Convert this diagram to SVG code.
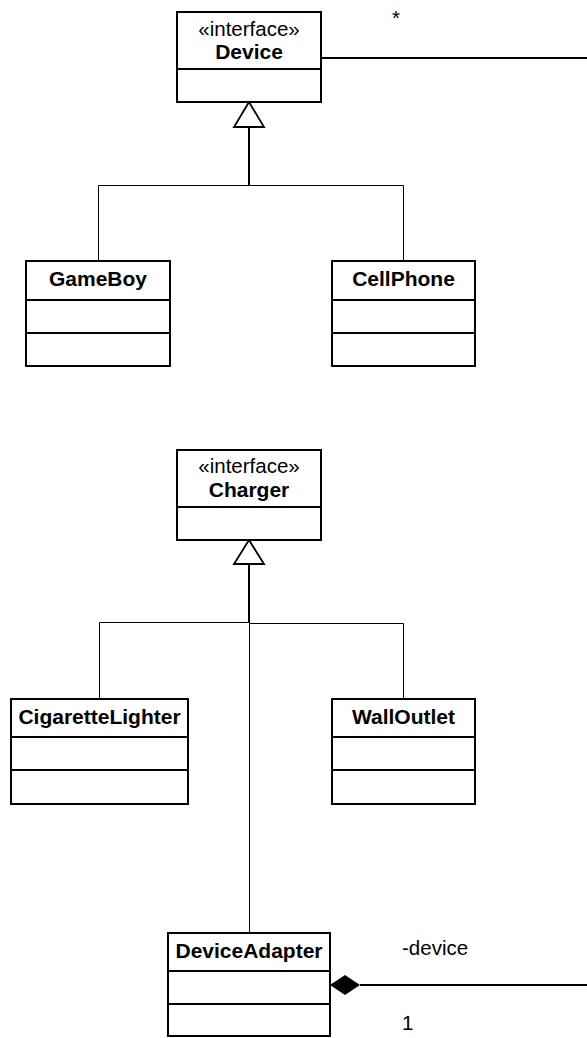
<svg xmlns="http://www.w3.org/2000/svg" width="587" height="1038" viewBox="0 0 587 1038">
<style>
.box{fill:#fff;stroke:#000;stroke-width:2}
.div{stroke:#000;stroke-width:2}
.ln{fill:none;stroke:#000;stroke-width:1}
.trunk{fill:none;stroke:#000;stroke-width:2}
.tri{fill:#fff;stroke:#000;stroke-width:1.8}
.st{font-family:"Liberation Sans",Arial,sans-serif;font-size:20.5px;text-anchor:middle;fill:#000}
.nm{font-family:"Liberation Sans",Arial,sans-serif;font-size:21px;font-weight:bold;text-anchor:middle;fill:#000}
.lb{font-family:"Liberation Sans",Arial,sans-serif;font-size:20.5px;fill:#000}
</style>
<rect width="587" height="1038" fill="#fff"/>
<g id="connectors">
  <!-- Device generalization -->
  <line class="trunk" x1="249" y1="127" x2="249" y2="185"/>
  <polyline class="ln" points="98.5,261 98.5,185.5 403.5,185.5 403.5,261"/>
  <polygon class="tri" points="249,102 234,127 264,127"/>
  <!-- Charger generalization -->
  <line class="trunk" x1="249" y1="564" x2="249" y2="623"/>
  <polyline class="ln" points="99.5,699 99.5,622.5 249,622.5"/>
  <polyline class="ln" points="249.5,933 249.5,623.5 403.5,623.5 403.5,699"/>
  <polygon class="tri" points="249,540 234,564 264,564"/>
  <!-- Association Device -->
  <line class="ln" x1="321" y1="58" x2="587" y2="58" style="stroke-width:2"/>
  <text class="lb" x="392" y="25">*</text>
  <!-- Composition DeviceAdapter -->
  <line class="ln" x1="360" y1="985" x2="587" y2="985" style="stroke-width:2"/>
  <polygon points="330,985 345,975 360,985 345,995" fill="#000"/>
  <text class="lb" x="402" y="955">-device</text>
  <text class="lb" x="402" y="1030">1</text>
</g>
<g id="Device">
  <rect class="box" x="177" y="12" width="144" height="90"/>
  <line class="div" x1="177" y1="69" x2="321" y2="69"/>
  <text class="st" x="249" y="36">«interface»</text>
  <text class="nm" x="249" y="59">Device</text>
</g>
<g id="GameBoy">
  <rect class="box" x="26" y="261" width="144" height="105"/>
  <line class="div" x1="26" y1="300" x2="170" y2="300"/>
  <line class="div" x1="26" y1="333" x2="170" y2="333"/>
  <text class="nm" x="98" y="286">GameBoy</text>
</g>
<g id="CellPhone">
  <rect class="box" x="332" y="261" width="143" height="105"/>
  <line class="div" x1="332" y1="300" x2="475" y2="300"/>
  <line class="div" x1="332" y1="333" x2="475" y2="333"/>
  <text class="nm" x="403.5" y="286">CellPhone</text>
</g>
<g id="Charger">
  <rect class="box" x="177" y="450" width="144" height="90"/>
  <line class="div" x1="177" y1="507" x2="321" y2="507"/>
  <text class="st" x="249" y="473">«interface»</text>
  <text class="nm" x="249" y="497">Charger</text>
</g>
<g id="CigaretteLighter">
  <rect class="box" x="11" y="699" width="177" height="105"/>
  <line class="div" x1="11" y1="737" x2="188" y2="737"/>
  <line class="div" x1="11" y1="770" x2="188" y2="770"/>
  <text class="nm" x="99.5" y="724">CigaretteLighter</text>
</g>
<g id="WallOutlet">
  <rect class="box" x="332" y="699" width="143" height="105"/>
  <line class="div" x1="332" y1="737" x2="475" y2="737"/>
  <line class="div" x1="332" y1="770" x2="475" y2="770"/>
  <text class="nm" x="403.5" y="724">WallOutlet</text>
</g>
<g id="DeviceAdapter">
  <rect class="box" x="168" y="933" width="162" height="103"/>
  <line class="div" x1="168" y1="971" x2="330" y2="971"/>
  <line class="div" x1="168" y1="1004" x2="330" y2="1004"/>
  <text class="nm" x="249" y="958">DeviceAdapter</text>
</g>
</svg>
